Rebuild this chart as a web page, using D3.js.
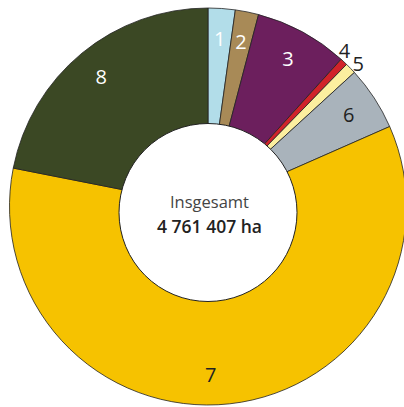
<!DOCTYPE html>
<html>
<head>
<meta charset="utf-8">
<script src="https://cdn.jsdelivr.net/npm/d3@7"></script>
<style>
  html, body { margin: 0; padding: 0; background: #fff; }
  svg { display: block; font-family: "Open Sans", "Noto Sans", sans-serif; }
</style>
</head>
<body>
<div id="chart"></div>
<script>
// shares of total area, in percent
const labels = ["1", "2", "3", "4", "5", "6", "7", "8"];
const shares = [2.2, 1.9, 7.6, 0.6, 0.9, 5.2, 59.7, 21.9];
const colors = ["#b2dde9", "#a88a57", "#6c1f5d", "#d1232a", "#fcef9f", "#a9b3bb", "#f6c200", "#3b4824"];
const labelColors = ["#fff", "#fff", "#fff", "#222", "#222", "#222", "#222", "#fff"];
const totalLabel = "Insgesamt";
const totalValue = "4 761 407 ha";

const width = 404, height = 407;
const cx = 208, cy = 206.5;
const outerR = 198.5;

const svg = d3.select("#chart").append("svg")
    .attr("width", width)
    .attr("height", height);

const g = svg.append("g")
    .attr("transform", `translate(${cx},${cy})`);

const pie = d3.pie().sort(null).value(d => d);
const arcs = pie(shares);

const arc = d3.arc().innerRadius(0).outerRadius(outerR);

// slices
g.selectAll("path.slice")
    .data(arcs)
    .join("path")
    .attr("class", "slice")
    .attr("d", arc)
    .attr("fill", (d, i) => colors[i])
    .attr("stroke", "#222")
    .attr("stroke-width", 0.8);

// white hole (sits a bit below the pie centre, as in the original)
g.append("circle")
    .attr("cx", 0)
    .attr("cy", 6)
    .attr("r", 89)
    .attr("fill", "#fff")
    .attr("stroke", "#222")
    .attr("stroke-width", 1);

// slice numbers: small ones outside the ring, nudged apart
const deg = Math.PI / 180;
const nudge = { "4": -2 * deg, "5": 0.6 * deg };
const labelR = i => (shares[i] < 1 ? 207 : 168);
g.selectAll("text.num")
    .data(arcs)
    .join("text")
    .attr("class", "num")
    .attr("transform", (d, i) => {
        let a = (d.startAngle + d.endAngle) / 2 + (nudge[labels[i]] || 0);
        if (labels[i] === "7") a = Math.PI * 0.995;
        const r = labelR(i);
        return `translate(${r * Math.sin(a)},${-r * Math.cos(a)})`;
    })
    .attr("text-anchor", "middle")
    .attr("dy", "0.36em")
    .attr("font-size", 20)
    .attr("fill", (d, i) => labelColors[i])
    .text((d, i) => labels[i]);

// centre text
g.append("text")
    .attr("x", 1.5)
    .attr("y", -4)
    .attr("dy", "0.36em")
    .attr("text-anchor", "middle")
    .attr("font-size", 16.5)
    .attr("fill", "#444")
    .text(totalLabel);

g.append("text")
    .attr("x", 1.5)
    .attr("y", 20)
    .attr("dy", "0.36em")
    .attr("text-anchor", "middle")
    .attr("font-size", 17.5)
    .attr("font-weight", 600)
    .attr("fill", "#222")
    .text(totalValue);
</script>
</body>
</html>
